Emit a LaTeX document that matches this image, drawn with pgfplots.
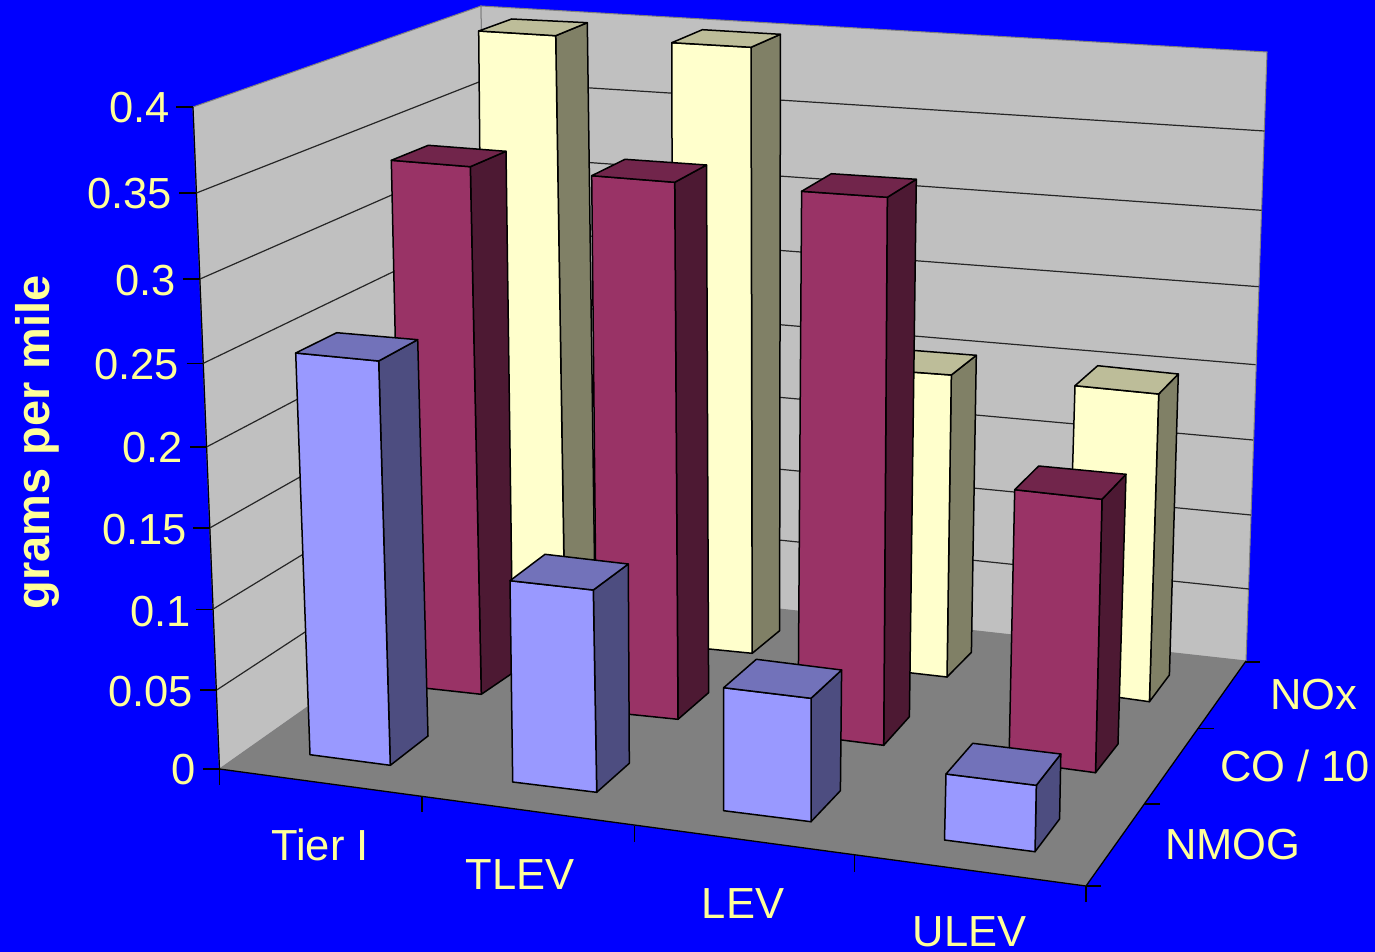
\documentclass[border=0pt]{standalone}
\usepackage{pgfplots}
\pgfplotsset{compat=1.18}
\usepackage{fontspec}
\setmainfont{Liberation Sans}
\definecolor{bgblue}{RGB}{0,0,255}
\definecolor{wall}{RGB}{192,192,192}
\definecolor{floorc}{RGB}{128,128,128}
\definecolor{labelc}{RGB}{255,255,153}
\definecolor{bf}{RGB}{153,153,255}\definecolor{bt}{RGB}{114,114,186}\definecolor{bs}{RGB}{77,77,128}
\definecolor{pf}{RGB}{153,51,102}\definecolor{pt}{RGB}{113,37,75}\definecolor{ps}{RGB}{77,25,51}
\definecolor{yf}{RGB}{255,255,204}\definecolor{yt}{RGB}{189,189,153}\definecolor{ys}{RGB}{128,128,102}
% Values (grams per mile):
%            Tier I  TLEV   LEV    ULEV
% NMOG        0.25   0.125  0.075  0.04
% CO / 10     0.34   0.34   0.34   0.17
% NOx         0.4    0.4    0.2    0.2
% The perspective view is drawn in picture coordinates of the axis below.
\newcommand\face[2]{\addplot[fill=#1,draw=black,line width=1.5pt,line join=round,mark=none] coordinates {#2} --cycle;}
\newcommand\grid[1]{\addplot[draw=black!85,line width=1.2pt,mark=none] coordinates {#1};}
\newcommand\tickl[1]{\addplot[draw=black,line width=1.2pt,mark=none] coordinates {#1};}
\newcommand\txt[3]{\node[anchor=#1,text=labelc,font=\fontsize{43.5}{43.5}\selectfont,inner sep=0pt] at (axis cs:#2) {#3};}
\begin{document}
\begin{tikzpicture}
\begin{axis}[scale only axis,width=1375pt,height=952pt,xmin=0,xmax=1375,ymin=0,ymax=952,y dir=reverse,axis lines=none,clip=false]
% background
\addplot[fill=bgblue,draw=none,mark=none] coordinates {(0,0) (1375,0) (1375,952) (0,952)} --cycle;
% walls and floor
\addplot[fill=wall,draw=black!50,line width=1pt,mark=none] coordinates {(193,107) (481,6) (492,577) (219.5,769)} --cycle;
\addplot[fill=wall,draw=black!50,line width=1pt,mark=none] coordinates {(481,6) (1267,52) (1246,661) (492,577)} --cycle;
\addplot[fill=floorc,draw=none,mark=none] coordinates {(219.5,769) (492,577) (1246,661) (1086,886)} --cycle;
\addplot[draw=black,line width=1.2pt,mark=none] coordinates {(193,107) (219.5,769)};
\addplot[draw=black,line width=1.3pt,mark=none] coordinates {(219.5,769) (1086,886) (1246,661)};
% gridlines
\grid{(196.4,193) (481.5,81) (1264.5,131)}\grid{(200,279) (483,155) (1261.5,210.3)}
\grid{(203.3,363.3) (484,228) (1258.7,286.7)}\grid{(206.5,447) (486,300) (1255.5,364.7)}
\grid{(209.7,528) (487.5,371) (1253,440)}\grid{(212.7,609.3) (489,441) (1251,515)}
\grid{(216.7,690) (491,510) (1249,589)}
% ticks
\tickl{(176,107) (193,107)}\tickl{(179,193) (196.4,193)}\tickl{(183,279) (200,279)}\tickl{(186.5,363.3) (203.3,363.3)}
\tickl{(190,447) (206.5,447)}\tickl{(193,528) (209.7,528)}\tickl{(196,609.3) (212.7,609.3)}\tickl{(200,690) (216.7,690)}\tickl{(203,769) (219.5,769)}
\tickl{(219.5,769) (219.5,785)}\tickl{(422,796.7) (422,812)}\tickl{(634.3,826) (634.3,842)}\tickl{(854.7,855) (854.7,871.7)}\tickl{(1086,886) (1086,902)}
\tickl{(1086,886) (1101,886)}\tickl{(1144,804) (1160.4,804)}\tickl{(1198.4,728.3) (1213.5,728.3)}\tickl{(1246,662) (1260.4,662)}
% NOx row
\face{ys}{(555.7,35.7) (587.3,22.7) (595,600) (565,630)}
\face{yf}{(478.7,31) (555.7,35.7) (565,630) (484,620)}
\face{yt}{(478.7,31) (555.7,35.7) (587.3,22.7) (511.7,19)}
\face{ys}{(751,47.3) (780.4,34.3) (779.6,630.7) (752.2,653.3)}
\face{yf}{(671.8,42.7) (751,47.3) (752.2,653.3) (673,645.4)}
\face{yt}{(671.8,42.7) (751,47.3) (780.4,34.3) (702.4,29.7)}
\face{ys}{(951.3,375) (976.3,355.3) (971.4,652.3) (947,677)}
\face{yf}{(870,369) (951.3,375) (947,677) (868,668)}
\face{yt}{(870,369) (951.3,375) (976.3,355.3) (895,349)}
\face{ys}{(1158.7,394) (1178.3,374) (1169.4,675) (1149.4,701.7)}
\face{yf}{(1075,385.7) (1158.7,394) (1149.4,701.7) (1066,690)}
\face{yt}{(1075,385.7) (1158.7,394) (1178.3,374) (1097.7,365.7)}
% CO / 10 row
\face{ps}{(470.3,166.7) (506,151.3) (513,672.7) (481.3,694.3)}
\face{pf}{(391.3,160.3) (470.3,166.7) (481.3,694.3) (403,685.7)}
\face{pt}{(391.3,160.3) (470.3,166.7) (506,151.3) (428.3,145.3)}
\face{ps}{(674.7,182.3) (706.5,165) (708.6,692.7) (678,719.3)}
\face{pf}{(591.7,175.7) (674.7,182.3) (678,719.3) (597,711)}
\face{pt}{(591.7,175.7) (674.7,182.3) (706.5,165) (625,159.3)}
\face{ps}{(887.3,197.3) (916.3,179.3) (909.4,716.7) (883.7,745.3)}
\face{pf}{(801.6,191.3) (887.3,197.3) (883.7,745.3) (798,734.5)}
\face{pt}{(801.6,191.3) (887.3,197.3) (916.3,179.3) (831.4,173.7)}
\face{ps}{(1102,499.3) (1126,474.3) (1118,744) (1095.5,772.7)}
\face{pf}{(1014.7,489.7) (1102,499.3) (1095.5,772.7) (1009,761)}
\face{pt}{(1014.7,489.7) (1102,499.3) (1126,474.3) (1038.7,466)}
% NMOG row
\face{bs}{(378.7,361) (417.7,339.7) (428,736) (390.3,765.3)}
\face{bf}{(295.7,353) (378.7,361) (390.3,765.3) (310,754.7)}
\face{bt}{(295.7,353) (378.7,361) (417.7,339.7) (336.7,332.7)}
\face{bs}{(593.3,590) (628.3,564) (629.3,763.3) (596.7,792.3)}
\face{bf}{(510,580.7) (593.3,590) (596.7,792.3) (512.7,782)}
\face{bt}{(510,580.7) (593.3,590) (628.3,564) (545,554.3)}
\face{bs}{(811,698.3) (841.6,670) (840.4,790.7) (811,821.7)}
\face{bf}{(723.7,687.7) (811,698.3) (811,821.7) (723.7,810.7)}
\face{bt}{(723.7,687.7) (811,698.3) (841.6,670) (756.3,659.3)}
\face{bs}{(1036.3,785.3) (1060.8,754) (1059.6,819) (1035,851.7)}
\face{bf}{(946,774) (1036.3,785.3) (1035,851.7) (944.5,840)}
\face{bt}{(946,774) (1036.3,785.3) (1060.8,754) (972.7,743.3)}
% labels
\txt{base east}{170,123}{0.4}\txt{base east}{172,208}{0.35}\txt{base east}{176,295}{0.3}
\txt{base east}{179,379}{0.25}\txt{base east}{183,462}{0.2}\txt{base east}{187,544}{0.15}
\txt{base east}{191,626}{0.1}\txt{base east}{193,706}{0.05}\txt{base east}{196,784}{0}
\txt{base}{320,860}{Tier I}\txt{base}{520,889}{TLEV}\txt{base}{743,918}{LEV}\txt{base}{969.5,946}{ULEV}
\txt{base west}{1270,709}{NOx}\txt{base west}{1220,781}{CO / 10}\txt{base west}{1165,859}{NMOG}
\node[rotate=90,anchor=base,text=labelc,font=\fontsize{47}{47}\selectfont\bfseries,inner sep=0pt] at (axis cs:49,442.5) {grams per mile};
\end{axis}
\end{tikzpicture}
\end{document}
